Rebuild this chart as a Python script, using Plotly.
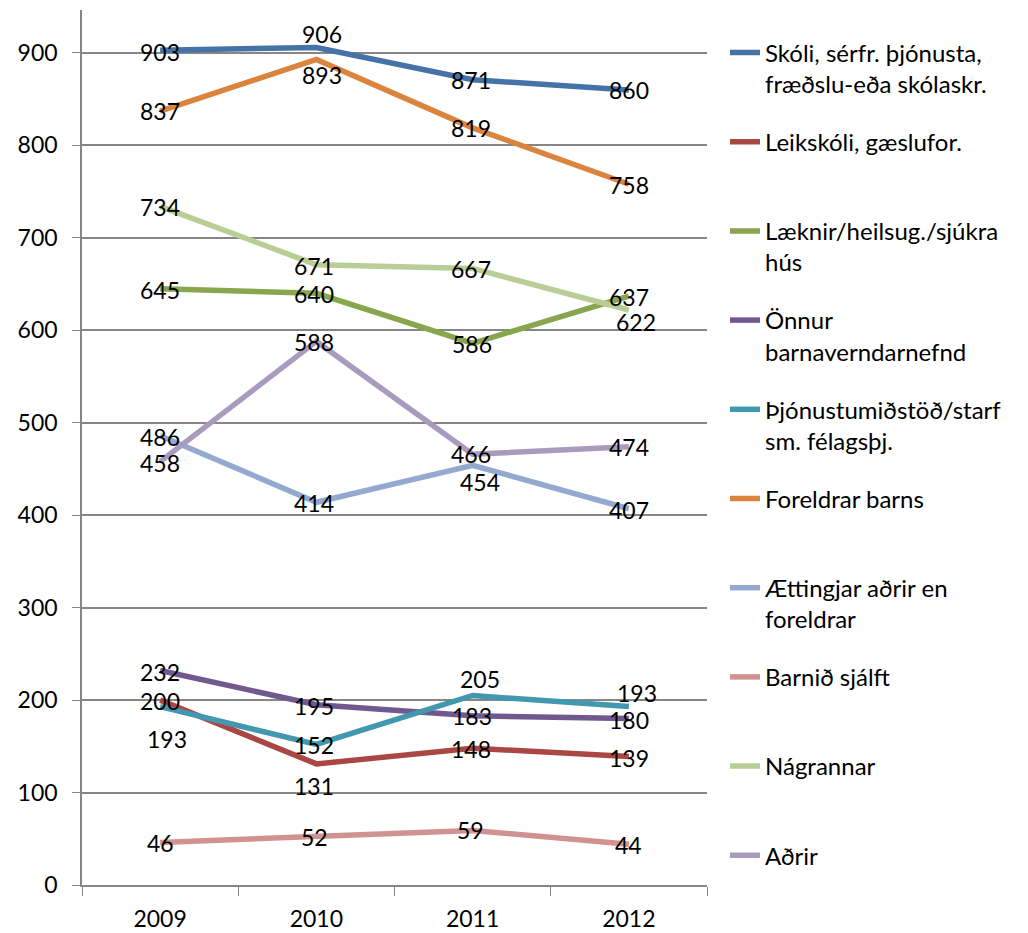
import plotly.graph_objects as go

years = ["2009", "2010", "2011", "2012"]

series_names = [
    "Skóli, sérfr. þjónusta,<br>fræðslu-eða skólaskr.",
    "Leikskóli, gæslufor.<br>&nbsp;",
    "Læknir/heilsug./sjúkra<br>hús",
    "Önnur<br>barnaverndarnefnd",
    "Þjónustumiðstöð/starf<br>sm. félagsþj.",
    "Foreldrar barns<br>&nbsp;",
    "Ættingjar aðrir en<br>foreldrar",
    "Barnið sjálft<br>&nbsp;",
    "Nágrannar<br>&nbsp;",
    "Aðrir",
]

skoli = [903, 906, 871, 860]
leikskoli = [200, 131, 148, 139]
laeknir = [645, 640, 586, 637]
onnur = [232, 195, 183, 180]
thjonustu = [193, 152, 205, 193]
foreldrar = [837, 893, 819, 758]
aettingjar = [486, 414, 454, 407]
barnid = [46, 52, 59, 44]
nagrannar = [734, 671, 667, 622]
adrir = [458, 588, 466, 474]

values = [skoli, leikskoli, laeknir, onnur, thjonustu,
          foreldrar, aettingjar, barnid, nagrannar, adrir]

colors = ["#4572A7", "#AA4643", "#89A54E", "#71588F", "#4198AF",
          "#DB843D", "#93A9CF", "#D19392", "#B9CD96", "#A99BBD"]

# data-label placement (screen px offsets: dx right, dy down)
label_offsets = [
    [(0, 2), (6, -13), (-2, 0), (0, 0)],
    [(0, 1), (-2, 22), (-2, 1), (0, 1)],
    [(0, 1), (-2, 1), (-1, 1), (0, 1)],
    [(0, 1), (-2, 1), (-1, 0), (0, 1)],
    [(7, 32), (-2, 1), (7, -16), (8, -14)],
    [(0, 0), (6, 16), (-2, 0), (0, 1)],
    [(0, 1), (-2, 1), (7, 17), (0, 1)],
    [(0, 1), (-2, 0), (-2, 0), (0, 1)],
    [(0, 1), (-2, 1), (-2, 1), (7, 12)],
    [(0, 1), (-2, 1), (-2, 0), (0, 0)],
]

FONT = "Lato, 'Open Sans', sans-serif"
fig = go.Figure()

for i, (name, vals, col) in enumerate(zip(series_names, values, colors)):
    fig.add_trace(go.Scatter(
        x=years, y=vals, name=name, mode="lines",
        line=dict(color=col, width=5.5),
        legendgroup=f"g{i}", hoverinfo="skip",
    ))

annotations = []
for vals, offs in zip(values, label_offsets):
    for j, (v, (dx, dy)) in enumerate(zip(vals, offs)):
        annotations.append(dict(
            x=j, y=v, xref="x", yref="y", text=str(v), showarrow=False,
            xanchor="center", yanchor="middle", xshift=dx, yshift=-dy,
            font=dict(family=FONT, size=23, color="black"),
        ))

grid = "#868686"
fig.update_layout(
    width=1020, height=925,
    margin=dict(l=74, r=321, t=2, b=48),
    paper_bgcolor="white", plot_bgcolor="white",
    font=dict(family=FONT, size=23, color="black"),
    showlegend=True,
    annotations=annotations,
    legend=dict(
        x=1.0288, xanchor="left", y=0.9767, yanchor="top",
        font=dict(family=FONT, size=24, color="black"),
        traceorder="grouped", tracegroupgap=23.8, valign="top",
        bgcolor="rgba(0,0,0,0)", itemwidth=30,
    ),
    xaxis=dict(
        type="category", range=[-0.5, 3.5], showgrid=False,
        showline=True, linecolor=grid, linewidth=1.5,
        ticks="outside", tickson="boundaries", ticklen=9, tickcolor=grid,
        ticklabelstandoff=13,
        tickfont=dict(family=FONT, size=23), zeroline=False, fixedrange=True,
        automargin=False,
    ),
    yaxis=dict(
        range=[0, 946.5], tickvals=[0, 100, 200, 300, 400, 500, 600, 700, 800, 900],
        showgrid=True, gridcolor=grid, gridwidth=1.5,
        showline=True, linecolor=grid, linewidth=1.5,
        ticks="outside", ticklen=8, tickcolor=grid,
        ticklabelstandoff=10,
        tickfont=dict(family=FONT, size=23), zeroline=False, fixedrange=True,
        automargin=False,
    ),
)

fig.write_html("out.html")
